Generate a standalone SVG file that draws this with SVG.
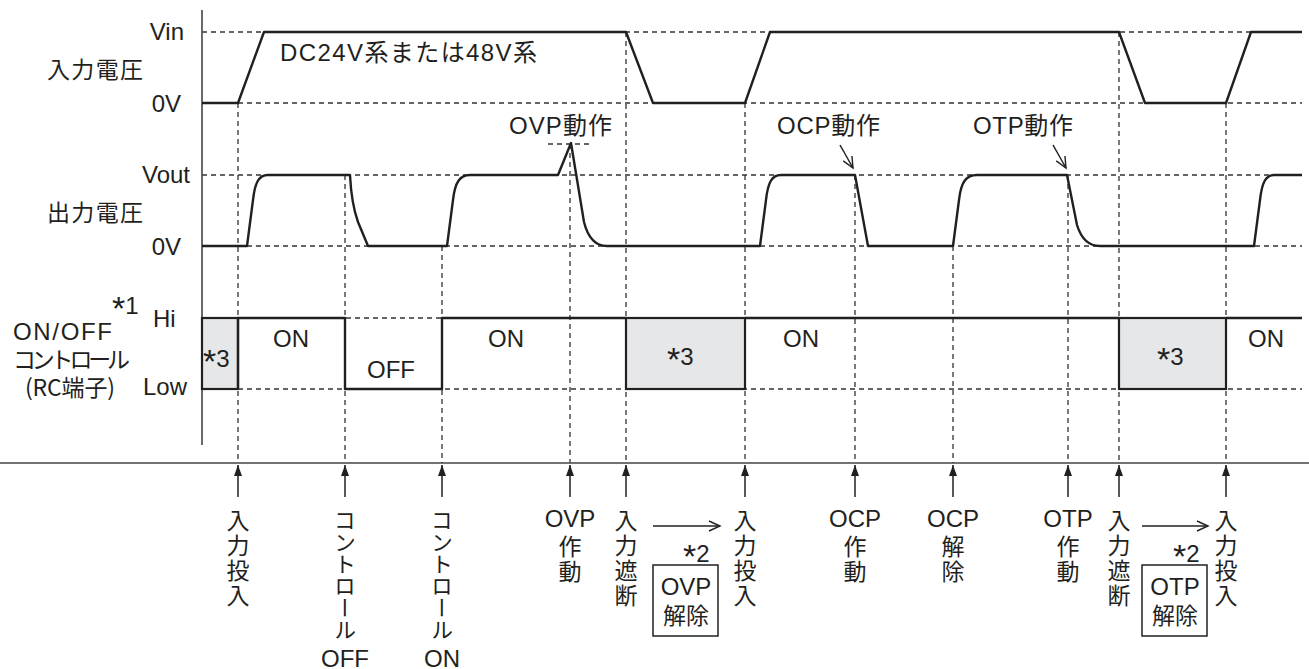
<svg xmlns="http://www.w3.org/2000/svg" width="1309" height="669" viewBox="0 0 1309 669">
<defs>
<style>
.t{font-family:"Liberation Sans","Noto Sans CJK JP",sans-serif;font-size:24px;fill:#231f20}
.j{font-family:"Noto Sans CJK JP","Liberation Sans",sans-serif;font-size:23px;fill:#231f20}
.v{font-family:"Noto Sans CJK JP",sans-serif;font-size:23px;fill:#231f20;writing-mode:vertical-rl;letter-spacing:2px}
.k{letter-spacing:0px;font-size:22px}
.a{font-size:34px}
.d{stroke:#333;stroke-width:1.3;stroke-dasharray:5 4;fill:none}
.s{stroke:#231f20;stroke-width:2.4;fill:none;stroke-linejoin:round}
.thin{stroke:#231f20;stroke-width:1.5;fill:none}
.box{fill:#e6e7e8;stroke:#231f20;stroke-width:2.2}
</style>
<marker id="fa" markerWidth="12" markerHeight="10" refX="11" refY="5" orient="auto" markerUnits="userSpaceOnUse">
<path d="M0,1 L11,5 L0,9 Z" fill="#231f20"/>
</marker>
<marker id="oa" markerWidth="14" markerHeight="12" refX="12" refY="6" orient="auto" markerUnits="userSpaceOnUse">
<path d="M1,1 L12,6 L1,11" fill="none" stroke="#231f20" stroke-width="1.4"/>
</marker>
</defs>

<g id="grid">
<path class="d" d="M202,32H1302M202,103H1302M202,175H1302M202,246H1302M202,318H1302M202,389H1302"/>
<path class="d" d="M238,103V463M345,175V463M442,246V463M570,144V463M626,32V463M745,103V463M855,175V463M953,246V463M1068,175V463M1119,32V463M1226,103V463"/>
<path class="d" d="M548,144H593"/>
</g>

<g id="axes">
<line x1="202" y1="10" x2="202" y2="445" stroke="#444" stroke-width="1.6"/>
<line x1="0" y1="463" x2="1309" y2="463" stroke="#444" stroke-width="1.6"/>
</g>

<g id="labels-left">
<text class="t" x="184" y="40" text-anchor="end">Vin</text>
<text class="j" x="47" y="78" textLength="96" lengthAdjust="spacing">入力電圧</text>
<text class="t" x="181" y="112" text-anchor="end">0V</text>
<text class="t" x="190" y="183" text-anchor="end">Vout</text>
<text class="j" x="47" y="221" textLength="96" lengthAdjust="spacing">出力電圧</text>
<text class="t" x="181" y="255" text-anchor="end">0V</text>
<text class="t" x="112" y="314"><tspan class="a" dy="6">*</tspan><tspan dy="-6">1</tspan></text>
<text class="t" x="153" y="327">Hi</text>
<text class="t" x="13" y="340" textLength="99" lengthAdjust="spacing">ON/OFF</text>
<text class="j" x="13" y="368" font-size="20" textLength="117" lengthAdjust="spacing">コントロール</text>
<text class="j" x="25" y="396" font-size="20" textLength="90" lengthAdjust="spacing">(RC端子)</text>
<text class="t" x="143" y="395">Low</text>
</g>

<g id="input-voltage">
<path class="s" d="M202,103L238,103L264,32L626,32L653,103L745,103L770,32L1119,32L1145,103L1226,103L1251,32L1302,32"/>
<text class="t" x="280" y="61" textLength="257" lengthAdjust="spacing">DC24V系または48V系</text>
</g>

<g id="output-voltage">
<path class="s" d="M202,246L247,246L253,200C255,182 259,175 268,175L350,175C351,195 353,208 358,222L368,246L447,246L453,200C455,182 460,175 470,175L558,175L571,143L584,222C588,238 595,246 607,246L760,246L766,200C768,182 772,175 781,175L855,175L868,246L953,246L959,200C961,182 966,175 977,175L1067,175L1077,225C1081,238 1088,246 1100,246L1254,246L1260,200C1262,182 1266,175 1274,175L1302,175"/>
<text class="t" x="509" y="134" textLength="103" lengthAdjust="spacing">OVP動作</text>
<text class="t" x="777" y="134" textLength="103" lengthAdjust="spacing">OCP動作</text>
<text class="t" x="973" y="134" textLength="100" lengthAdjust="spacing">OTP動作</text>
</g>

<g id="rc-signal">
<rect class="box" x="202" y="318" width="36" height="71"/>
<rect class="box" x="626" y="318" width="119" height="71"/>
<rect class="box" x="1119" y="318" width="107" height="71"/>
<path class="s" d="M238,389L238,318L345,318L345,389L442,389L442,318L626,318M745,318L1119,318M1226,318L1302,318"/>
<text class="t" x="203" y="367"><tspan class="a" dy="6">*</tspan><tspan dy="-6">3</tspan></text>
<text class="t" x="273" y="347">ON</text>
<text class="t" x="367" y="378">OFF</text>
<text class="t" x="488" y="347">ON</text>
<text class="t" x="667" y="365"><tspan class="a" dy="6">*</tspan><tspan dy="-6">3</tspan></text>
<text class="t" x="783" y="347">ON</text>
<text class="t" x="1157" y="365"><tspan class="a" dy="6">*</tspan><tspan dy="-6">3</tspan></text>
<text class="t" x="1248" y="347">ON</text>
</g>

<g id="connectors">
<line class="thin" x1="840" y1="145" x2="853" y2="168" marker-end="url(#oa)"/>
<line class="thin" x1="1053" y1="145" x2="1066" y2="168" marker-end="url(#oa)"/>
<line class="thin" x1="238" y1="497" x2="238" y2="465" marker-end="url(#fa)"/>
<line class="thin" x1="345" y1="497" x2="345" y2="465" marker-end="url(#fa)"/>
<line class="thin" x1="442" y1="497" x2="442" y2="465" marker-end="url(#fa)"/>
<line class="thin" x1="570" y1="497" x2="570" y2="465" marker-end="url(#fa)"/>
<line class="thin" x1="626" y1="497" x2="626" y2="465" marker-end="url(#fa)"/>
<line class="thin" x1="745" y1="497" x2="745" y2="465" marker-end="url(#fa)"/>
<line class="thin" x1="855" y1="497" x2="855" y2="465" marker-end="url(#fa)"/>
<line class="thin" x1="953" y1="497" x2="953" y2="465" marker-end="url(#fa)"/>
<line class="thin" x1="1068" y1="497" x2="1068" y2="465" marker-end="url(#fa)"/>
<line class="thin" x1="1119" y1="497" x2="1119" y2="465" marker-end="url(#fa)"/>
<line class="thin" x1="1226" y1="497" x2="1226" y2="465" marker-end="url(#fa)"/>
<line class="thin" x1="653" y1="526" x2="720" y2="526" marker-end="url(#oa)"/>
<line class="thin" x1="1142" y1="526" x2="1208" y2="526" marker-end="url(#oa)"/>
</g>

<g id="event-labels">
<text class="v" x="238" y="509">入力投入</text>
<text class="v k" x="345" y="509">コントロール</text>
<text class="t" x="345" y="667" text-anchor="middle">OFF</text>
<text class="v k" x="442" y="509">コントロール</text>
<text class="t" x="442" y="667" text-anchor="middle">ON</text>
<text class="t" x="570" y="527" text-anchor="middle">OVP</text>
<text class="v" x="570" y="535">作動</text>
<text class="v" x="626" y="509">入力遮断</text>
<text class="v" x="745" y="509">入力投入</text>
<text class="t" x="855" y="527" text-anchor="middle">OCP</text>
<text class="v" x="855" y="535">作動</text>
<text class="t" x="953" y="527" text-anchor="middle">OCP</text>
<text class="v" x="953" y="535">解除</text>
<text class="t" x="1068" y="527" text-anchor="middle">OTP</text>
<text class="v" x="1068" y="535">作動</text>
<text class="v" x="1119" y="509">入力遮断</text>
<text class="v" x="1226" y="509">入力投入</text>
</g>

<g id="release-ovp">
<text class="t" x="683" y="562"><tspan class="a" dy="6">*</tspan><tspan dy="-6">2</tspan></text>
<rect x="653" y="565" width="65" height="71" fill="none" stroke="#231f20" stroke-width="1.5"/>
<text class="t" x="686" y="595" text-anchor="middle">OVP</text>
<text class="j" x="686" y="624" text-anchor="middle">解除</text>
</g>

<g id="release-otp">
<text class="t" x="1173" y="562"><tspan class="a" dy="6">*</tspan><tspan dy="-6">2</tspan></text>
<rect x="1142" y="565" width="65" height="71" fill="none" stroke="#231f20" stroke-width="1.5"/>
<text class="t" x="1175" y="595" text-anchor="middle">OTP</text>
<text class="j" x="1175" y="624" text-anchor="middle">解除</text>
</g>
</svg>
